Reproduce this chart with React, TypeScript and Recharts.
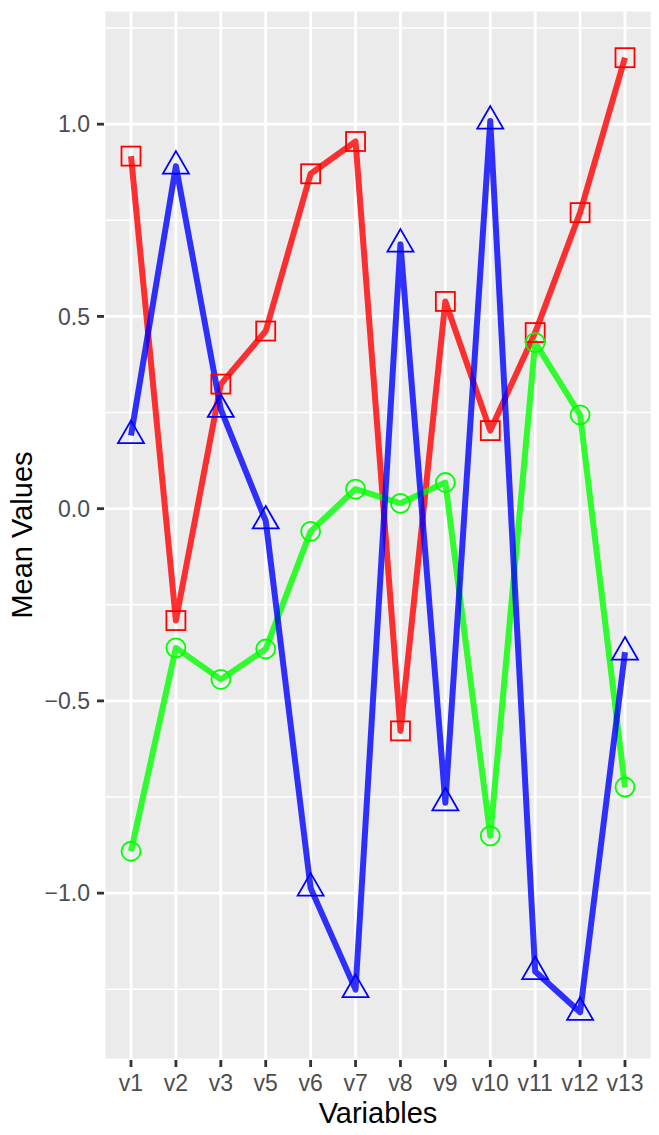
import { LineChart, Line, XAxis, YAxis, CartesianGrid, ReferenceLine, Label } from "recharts"

const variables = ["v1", "v2", "v3", "v5", "v6", "v7", "v8", "v9", "v10", "v11", "v12", "v13"]
const redValues = [0.917, -0.291, 0.324, 0.462, 0.871, 0.955, -0.578, 0.539, 0.203, 0.458, 0.77, 1.173]
const greenValues = [-0.891, -0.362, -0.444, -0.365, -0.059, 0.051, 0.014, 0.068, -0.851, 0.432, 0.244, -0.724]
const blueValues = [0.19, 0.891, 0.258, -0.032, -0.987, -1.251, 0.688, -0.765, 1.008, -1.204, -1.31, -0.373]
const majorTicks = [-1, -0.5, 0, 0.5, 1]
const minorTicks = [-1.25, -0.75, -0.25, 0.25, 0.75, 1.25]

const data = variables.map((v, i) => ({
  name: v,
  red: redValues[i],
  green: greenValues[i],
  blue: blueValues[i],
}))

const font = "'Liberation Sans', Arial, sans-serif"

const fmt = (v: number) => (v < 0 ? "\u2212" : "") + Math.abs(v).toFixed(1)

const square = (p: any) => (
  <rect key={p.index} x={p.cx - 9.5} y={p.cy - 9.5} width={19} height={19} fill="none" stroke="#FF0000" strokeWidth={1.8} />
)
const circle = (p: any) => (
  <circle key={p.index} cx={p.cx} cy={p.cy} r={9.5} fill="none" stroke="#00FF00" strokeWidth={1.8} />
)
const triangle = (p: any) => {
  const r = 15
  const pts = `${p.cx},${p.cy - r} ${p.cx + r * 0.866},${p.cy + r / 2} ${p.cx - r * 0.866},${p.cy + r / 2}`
  return <polygon key={p.index} points={pts} fill="none" stroke="#0000FF" strokeWidth={1.8} />
}

export default function App() {
  return (
    <div style={{ position: "absolute", left: 0, top: 0, background: "#fff" }}>
      <LineChart width={659} height={1135} data={data} margin={{ top: 10, right: 7, left: 0, bottom: 0 }}>
        <CartesianGrid fill="#EBEBEB" stroke="#FFFFFF" strokeWidth={2.8} />
        <XAxis
          dataKey="name"
          height={75}
          padding={{ left: 27, right: 27 }}
          axisLine={false}
          tickLine={{ stroke: "#333333", strokeWidth: 2.8 }}
          tickSize={7}
          tickMargin={8}
          interval={0}
          tick={{ fill: "#4D4D4D", fontSize: 23, fontFamily: font }}
        >
          <Label
            content={() => (
              <text x={378} y={1123} textAnchor="middle" fontSize={29} fontFamily={font} fill="#000">
                Variables
              </text>
            )}
          />
        </XAxis>
        <YAxis
          width={104}
          domain={[-1.434, 1.297]}
          ticks={majorTicks}
          allowDataOverflow
          axisLine={false}
          tickLine={{ stroke: "#333333", strokeWidth: 2.8 }}
          tickSize={7}
          tickMargin={7}
          tickFormatter={fmt}
          tick={{ fill: "#4D4D4D", fontSize: 23, fontFamily: font }}
        >
          <Label
            content={() => (
              <text x={32} y={535} transform="rotate(-90 32 535)" textAnchor="middle" fontSize={29} fontFamily={font} fill="#000">
                Mean Values
              </text>
            )}
          />
        </YAxis>
        {minorTicks.map((t) => (
          <ReferenceLine key={t} y={t} stroke="#FFFFFF" strokeWidth={1.4} />
        ))}
        <Line type="linear" dataKey="red" stroke="#FF0000" strokeOpacity={0.8} strokeWidth={6} strokeLinejoin="round" dot={false} activeDot={false} isAnimationActive={false} />
        <Line type="linear" dataKey="green" stroke="#00FF00" strokeOpacity={0.8} strokeWidth={6} strokeLinejoin="round" dot={false} activeDot={false} isAnimationActive={false} />
        <Line type="linear" dataKey="blue" stroke="#0000FF" strokeOpacity={0.8} strokeWidth={6} strokeLinejoin="round" dot={false} activeDot={false} isAnimationActive={false} />
        <Line type="linear" dataKey="red" name="red points" stroke="none" dot={square} activeDot={false} isAnimationActive={false} />
        <Line type="linear" dataKey="green" name="green points" stroke="none" dot={circle} activeDot={false} isAnimationActive={false} />
        <Line type="linear" dataKey="blue" name="blue points" stroke="none" dot={triangle} activeDot={false} isAnimationActive={false} />
      </LineChart>
    </div>
  )
}
